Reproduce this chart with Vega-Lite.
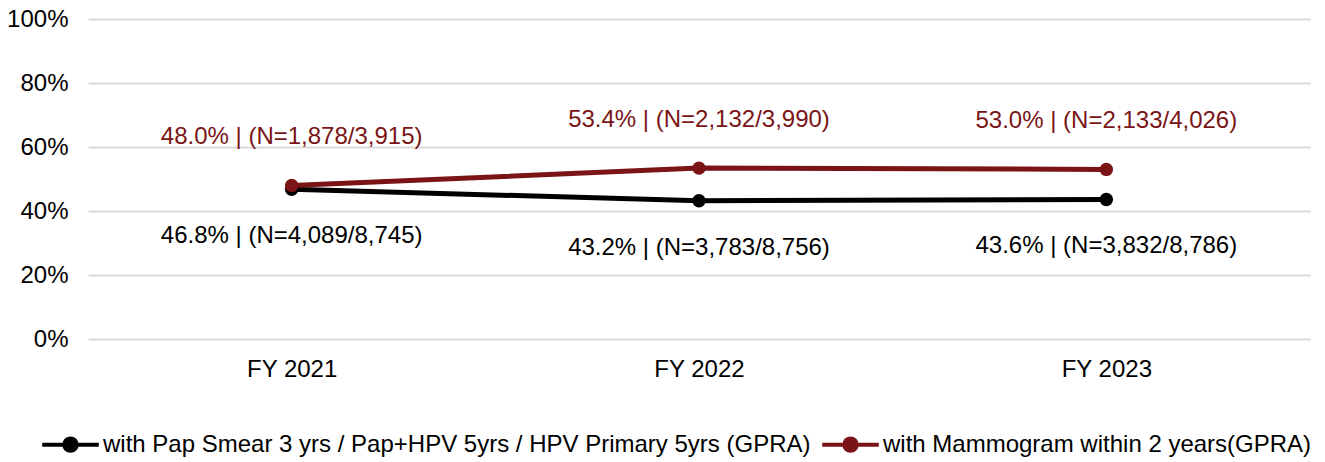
{
  "$schema": "https://vega.github.io/schema/vega-lite/v6.json",
  "autosize": "none",
  "width": 1222,
  "height": 320,
  "padding": {"left": 88, "top": 19, "right": 15, "bottom": 123},
  "config": {
    "view": {"stroke": null},
    "font": "Liberation Sans"
  },
  "data": {
    "values": [
      {"year": "FY 2021", "series": "with Pap Smear 3 yrs / Pap+HPV 5yrs / HPV Primary 5yrs (GPRA)", "value": 0.468, "label": "46.8% | (N=4,089/8,745)"},
      {"year": "FY 2022", "series": "with Pap Smear 3 yrs / Pap+HPV 5yrs / HPV Primary 5yrs (GPRA)", "value": 0.432, "label": "43.2% | (N=3,783/8,756)"},
      {"year": "FY 2023", "series": "with Pap Smear 3 yrs / Pap+HPV 5yrs / HPV Primary 5yrs (GPRA)", "value": 0.436, "label": "43.6% | (N=3,832/8,786)"},
      {"year": "FY 2021", "series": "with Mammogram within 2 years(GPRA)", "value": 0.48, "label": "48.0% | (N=1,878/3,915)"},
      {"year": "FY 2022", "series": "with Mammogram within 2 years(GPRA)", "value": 0.534, "label": "53.4% | (N=2,132/3,990)"},
      {"year": "FY 2023", "series": "with Mammogram within 2 years(GPRA)", "value": 0.53, "label": "53.0% | (N=2,133/4,026)"}
    ]
  },
  "encoding": {
    "x": {
      "field": "year", "type": "ordinal",
      "scale": {"type": "point", "padding": 0.5},
      "axis": {"title": null, "labelAngle": 0, "domain": false, "ticks": false, "labelFontSize": 24, "labelColor": "#000000", "labelPadding": 18, "grid": false, "labelFont": "Liberation Sans"}
    },
    "y": {
      "field": "value", "type": "quantitative",
      "scale": {"domain": [0, 1]},
      "axis": {"title": null, "format": ".0%", "values": [0, 0.2, 0.4, 0.6, 0.8, 1], "labelOverlap": false, "labelFlush": false, "domain": false, "ticks": false, "labelFontSize": 24, "labelColor": "#000000", "labelPadding": 20, "gridColor": "#d9d9d9", "gridWidth": 2, "labelFont": "Liberation Sans"}
    }
  },
  "layer": [
    {
      "mark": {"type": "line", "strokeWidth": 5},
      "encoding": {
        "color": {
          "field": "series", "type": "nominal",
          "scale": {
            "domain": ["with Pap Smear 3 yrs / Pap+HPV 5yrs / HPV Primary 5yrs (GPRA)", "with Mammogram within 2 years(GPRA)"],
            "range": ["#000000", "#7a1416"]
          },
          "legend": {
            "title": null,
            "orient": "none",
            "legendX": -48,
            "legendY": 395,
            "direction": "horizontal",
            "labelFontSize": 24,
            "labelColor": "#000000",
            "labelFont": "Liberation Sans",
            "labelLimit": 0,
            "symbolType": "M-1,0H1M-0.22,0A0.22,0.22,0,1,1,0.22,0A0.22,0.22,0,1,1,-0.22,0Z",
            "symbolSize": 3200,
            "symbolStrokeWidth": 4,
            "labelOffset": 2,
            "columnPadding": 3,
            "encode": {"symbols": {"update": {"fill": {"scale": "color", "field": "value"}}}}
          }
        }
      }
    },
    {
      "mark": {"type": "point", "filled": true, "size": 180, "opacity": 1},
      "encoding": {
        "color": {"field": "series", "type": "nominal", "legend": null}
      }
    },
    {
      "transform": [{"filter": "datum.series == 'with Mammogram within 2 years(GPRA)'"}],
      "mark": {"type": "text", "fontSize": 24, "dy": -48, "font": "Liberation Sans"},
      "encoding": {
        "text": {"field": "label"},
        "color": {"field": "series", "type": "nominal", "legend": null}
      }
    },
    {
      "transform": [{"filter": "datum.series != 'with Mammogram within 2 years(GPRA)'"}],
      "mark": {"type": "text", "fontSize": 24, "dy": 47, "font": "Liberation Sans"},
      "encoding": {
        "text": {"field": "label"},
        "color": {"field": "series", "type": "nominal", "legend": null}
      }
    }
  ]
}
